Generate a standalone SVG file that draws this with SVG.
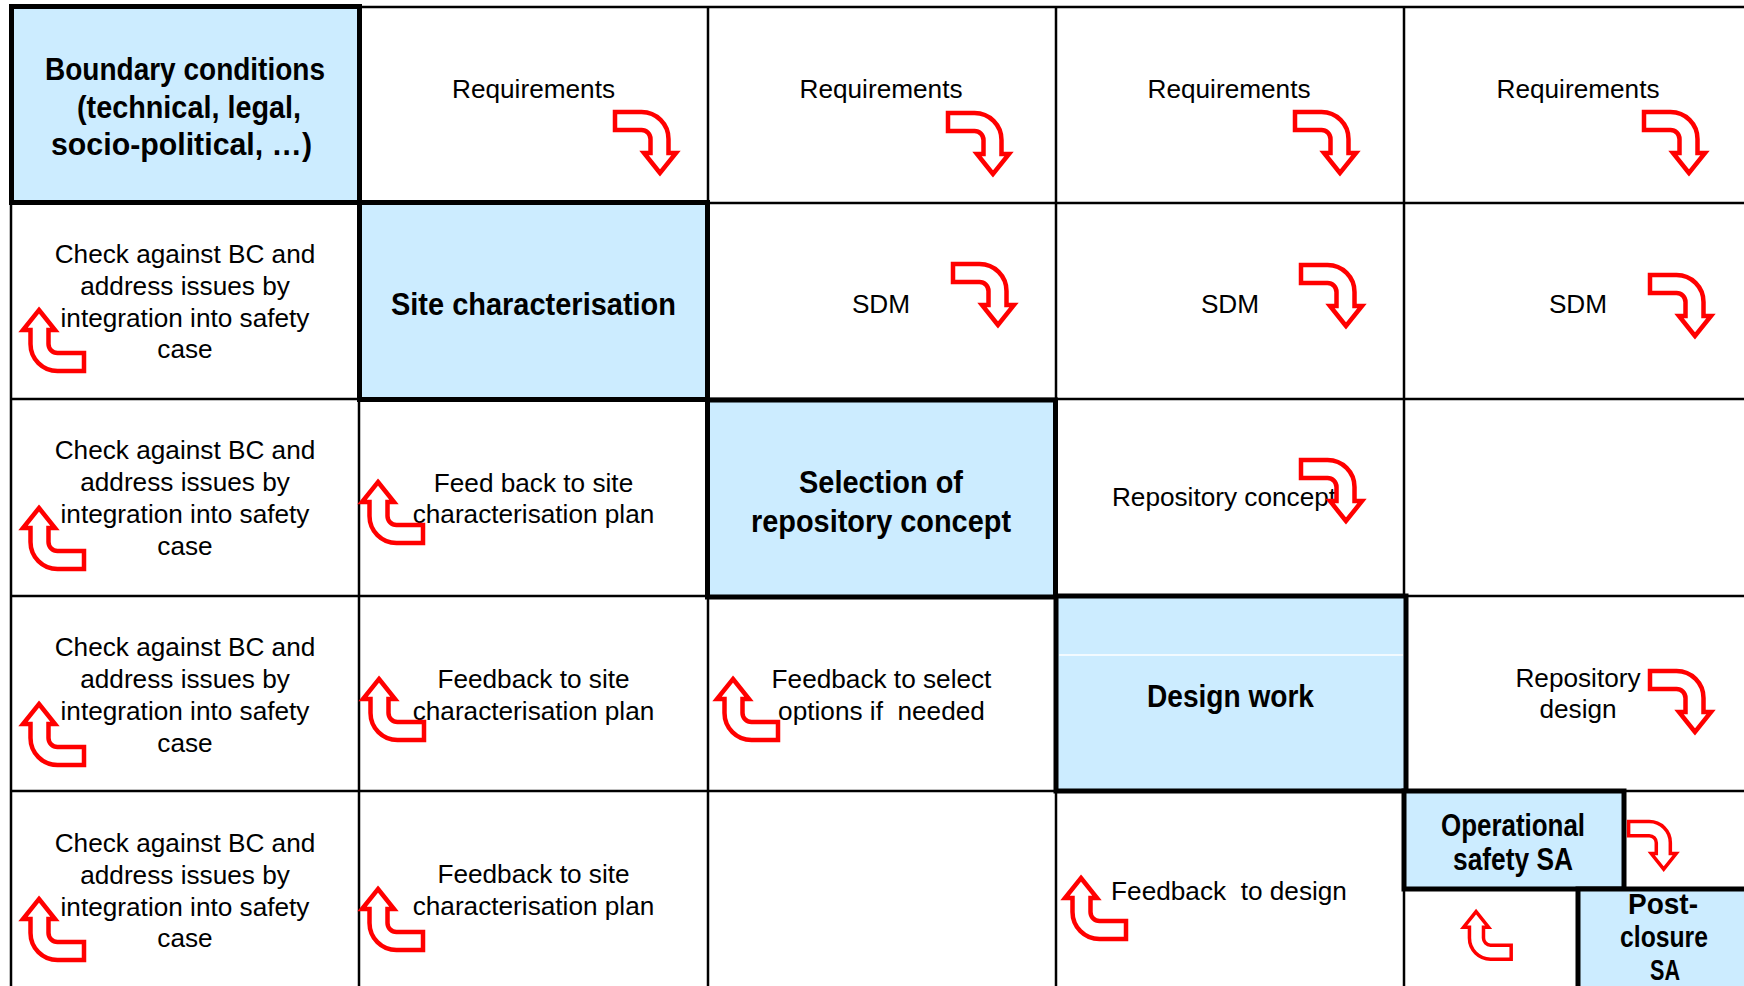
<svg xmlns="http://www.w3.org/2000/svg" xmlns:xlink="http://www.w3.org/1999/xlink" width="1744" height="986" viewBox="0 0 1744 986">
<style>
.grid{stroke:#000;stroke-width:2.5;fill:none}
.box{fill:#CCECFF;stroke:#000;stroke-width:5}
.t{font-family:"Liberation Sans",Arial,sans-serif;font-size:26.2px;fill:#000;text-anchor:middle}
.h{font-family:"Liberation Sans",Arial,sans-serif;font-size:31px;font-weight:bold;fill:#000;text-anchor:middle}
.arr{fill:#fff;stroke:#FF0000;stroke-width:4.5;stroke-linejoin:miter}
</style>
<defs>
<path id="au" class="arr" d="M16,0 L32,20 L25.5,20 L25.5,34 A9,9 0 0 0 34.5,43 L61,43 L61,61 L34.5,61 A27,27 0 0 1 7.5,34 L7.5,20 L0,20 Z"/>
<path id="ad" class="arr" d="M45,61 L29,41 L35.5,41 L35.5,27 A9,9 0 0 0 26.5,18 L0,18 L0,0 L26.5,0 A27,27 0 0 1 53.5,27 L53.5,41 L61,41 Z"/>
</defs>
<rect x="0" y="0" width="1744" height="986" fill="#fff"/>
<g id="grid" class="grid">
<line x1="11" y1="7" x2="1744" y2="7"/>
<line x1="11" y1="203" x2="1744" y2="203"/>
<line x1="11" y1="399" x2="1744" y2="399"/>
<line x1="11" y1="596" x2="1744" y2="596"/>
<line x1="11" y1="791" x2="1744" y2="791"/>
<line x1="11" y1="7" x2="11" y2="986"/>
<line x1="359" y1="7" x2="359" y2="986"/>
<line x1="708" y1="7" x2="708" y2="986"/>
<line x1="1056" y1="7" x2="1056" y2="986"/>
<line x1="1404" y1="7" x2="1404" y2="986"/>
</g>
<g id="boundary">
<rect class="box" x="11.5" y="6.5" width="348" height="196"/>
<text class="h" x="185" y="80" textLength="280" lengthAdjust="spacingAndGlyphs">Boundary conditions</text>
<text class="h" x="189" y="118" textLength="224" lengthAdjust="spacingAndGlyphs">(technical, legal,</text>
<text class="h" x="181.5" y="155" textLength="261" lengthAdjust="spacingAndGlyphs">socio-political, …)</text>
</g>
<g id="site">
<rect class="box" x="359.5" y="202.5" width="348" height="197"/>
<text class="h" x="533.5" y="315" textLength="285" lengthAdjust="spacingAndGlyphs">Site characterisation</text>
</g>
<g id="selection">
<rect class="box" x="707.5" y="400" width="348" height="197"/>
<text class="h" x="881" y="493" textLength="164" lengthAdjust="spacingAndGlyphs">Selection of</text>
<text class="h" x="881" y="532" textLength="260" lengthAdjust="spacingAndGlyphs">repository concept</text>
</g>
<g id="design">
<rect class="box" x="1056" y="596" width="350" height="195"/>
<line x1="1059" y1="655" x2="1403" y2="655" stroke="#fff" stroke-width="1.5"/>
<text class="h" x="1230.5" y="707" textLength="167" lengthAdjust="spacingAndGlyphs">Design work</text>
</g>
<g id="opsafety">
<rect class="box" x="1404" y="791" width="220" height="98"/>
<text class="h" x="1513" y="836" textLength="144" lengthAdjust="spacingAndGlyphs">Operational</text>
<text class="h" x="1513" y="870" textLength="120" lengthAdjust="spacingAndGlyphs">safety SA</text>
</g>
<g id="postclosure">
<rect class="box" x="1578" y="889" width="190" height="120"/>
<text class="h" style="font-size:29px" x="1663" y="914" textLength="70" lengthAdjust="spacingAndGlyphs">Post-</text>
<text class="h" style="font-size:29px" x="1664" y="947" textLength="88" lengthAdjust="spacingAndGlyphs">closure</text>
<text class="h" style="font-size:29px" x="1665" y="979.5" textLength="30" lengthAdjust="spacingAndGlyphs">SA</text>
</g>
<g id="labels">
<text class="t" x="533.5" y="98">Requirements</text>
<text class="t" x="881" y="98">Requirements</text>
<text class="t" x="1229" y="98">Requirements</text>
<text class="t" x="1578" y="98">Requirements</text>
<text class="t" x="881" y="313">SDM</text>
<text class="t" x="1230" y="313">SDM</text>
<text class="t" x="1578" y="313">SDM</text>
<text class="t" x="185" y="263">Check against BC and</text>
<text class="t" x="185" y="295">address issues by</text>
<text class="t" x="185" y="327">integration into safety</text>
<text class="t" x="185" y="358">case</text>
<text class="t" x="185" y="459">Check against BC and</text>
<text class="t" x="185" y="491">address issues by</text>
<text class="t" x="185" y="523">integration into safety</text>
<text class="t" x="185" y="555">case</text>
<text class="t" x="185" y="656">Check against BC and</text>
<text class="t" x="185" y="688">address issues by</text>
<text class="t" x="185" y="720">integration into safety</text>
<text class="t" x="185" y="752">case</text>
<text class="t" x="185" y="852">Check against BC and</text>
<text class="t" x="185" y="884">address issues by</text>
<text class="t" x="185" y="916">integration into safety</text>
<text class="t" x="185" y="947">case</text>
<text class="t" x="533.5" y="492">Feed back to site</text>
<text class="t" x="533.5" y="523">characterisation plan</text>
<text class="t" x="533.5" y="688">Feedback to site</text>
<text class="t" x="533.5" y="720">characterisation plan</text>
<text class="t" x="533.5" y="883">Feedback to site</text>
<text class="t" x="533.5" y="915">characterisation plan</text>
<text class="t" x="881.5" y="688">Feedback to select</text>
<text class="t" x="881.5" y="720" xml:space="preserve">options if  needed</text>
<text class="t" x="1224" y="506">Repository concept</text>
<text class="t" x="1578" y="687">Repository</text>
<text class="t" x="1578" y="718">design</text>
<text class="t" x="1229" y="900" xml:space="preserve">Feedback  to design</text>
</g>
<g id="connectors">
<use xlink:href="#au" transform="translate(23,310)"/>
<use xlink:href="#au" transform="translate(23,508)"/>
<use xlink:href="#au" transform="translate(23,704)"/>
<use xlink:href="#au" transform="translate(23,899)"/>
<use xlink:href="#au" transform="translate(362,482)"/>
<use xlink:href="#au" transform="translate(363,679)"/>
<use xlink:href="#au" transform="translate(362,889)"/>
<use xlink:href="#au" transform="translate(717,679)"/>
<use xlink:href="#au" transform="translate(1065,878)"/>
<use xlink:href="#au" transform="translate(1463.6,911.6) scale(0.78)"/>
<use xlink:href="#ad" transform="translate(615,112)"/>
<use xlink:href="#ad" transform="translate(948,113)"/>
<use xlink:href="#ad" transform="translate(1295,112)"/>
<use xlink:href="#ad" transform="translate(1644,112)"/>
<use xlink:href="#ad" transform="translate(953,264)"/>
<use xlink:href="#ad" transform="translate(1301,265)"/>
<use xlink:href="#ad" transform="translate(1650,275)"/>
<use xlink:href="#ad" transform="translate(1301,460)"/>
<use xlink:href="#ad" transform="translate(1650,671)"/>
<use xlink:href="#ad" transform="translate(1628.6,821.6) scale(0.78)"/>
</g>
</svg>
